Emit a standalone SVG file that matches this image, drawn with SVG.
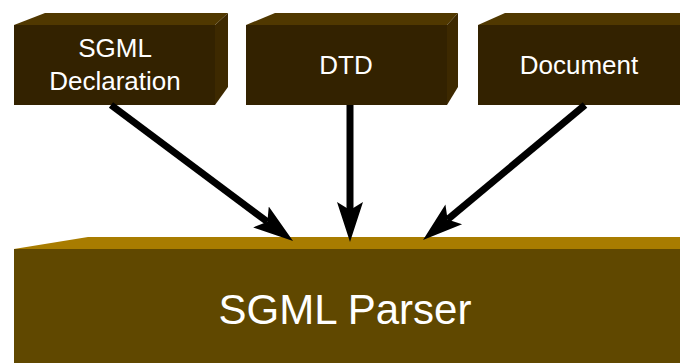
<svg xmlns="http://www.w3.org/2000/svg" width="680" height="363" viewBox="0 0 680 363">
<style>
.front{fill:#332200}
.top{fill:#503800}
.side{fill:#3d2900}
.pfront{fill:#604800}
.ptop{fill:#a87c00}
.lbl{font-family:"Liberation Sans",Arial,sans-serif;font-size:26px;fill:#ffffff;text-anchor:middle}
.big{font-size:42px}
.conn{stroke:#000;stroke-width:7;fill:none}
</style>
<defs>
<marker id="ah" markerUnits="userSpaceOnUse" markerWidth="44" markerHeight="30" viewBox="0 -15 44 30" refX="8" refY="0" orient="auto">
<path d="M40,0 L0,-13 L8,0 L0,13 Z" fill="#000"/>
</marker>
</defs>
<rect width="680" height="363" fill="#fff"/>
<g id="parser">
<polygon class="ptop" points="14,249 88,237 680,237 680,249"/>
<rect class="pfront" x="14" y="249" width="666" height="114"/>
<text class="lbl big" x="345" y="324">SGML Parser</text>
</g>
<g id="sgml-declaration">
<polygon class="top" points="14,25 45,13 228,13 215,25"/>
<polygon class="side" points="215,25 228,13 228,87 215,105"/>
<rect class="front" x="14" y="25" width="201" height="80"/>
<text class="lbl" x="115" y="57">SGML</text>
<text class="lbl" x="115" y="90">Declaration</text>
</g>
<g id="dtd">
<polygon class="top" points="246,25 275,13 458,13 447,25"/>
<polygon class="side" points="447,25 458,13 458,87 447,105"/>
<rect class="front" x="246" y="25" width="201" height="80"/>
<text class="lbl" x="346" y="74">DTD</text>
</g>
<g id="document">
<polygon class="top" points="478,25 505,13 690,13 680,25"/>
<rect class="front" x="478" y="25" width="202" height="80"/>
<text class="lbl" x="579" y="74">Document</text>
</g>
<g id="connectors">
<line class="conn" x1="111" y1="105" x2="267.4" y2="221.8" marker-end="url(#ah)"/>
<line class="conn" x1="350" y1="105" x2="350" y2="210" marker-end="url(#ah)"/>
<line class="conn" x1="585" y1="105" x2="447.6" y2="219.5" marker-end="url(#ah)"/>
</g>
</svg>
